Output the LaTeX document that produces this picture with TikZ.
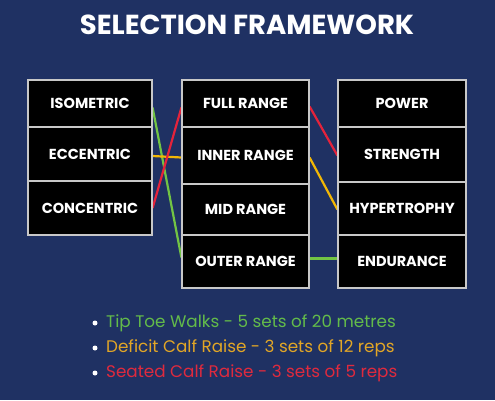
\documentclass[tikz,border=0pt]{standalone}
\usepackage{fontspec}
\setmainfont{Poppins}
\usepackage{tikz}
\pgfdeclarelayer{bglayer}
\pgfdeclarelayer{edgelayer}
\pgfdeclarelayer{nodelayer}
\pgfsetlayers{bglayer,edgelayer,nodelayer,main}
\definecolor{navy}{HTML}{1F3163}
\definecolor{boxline}{HTML}{C8C8C8}
\definecolor{lgreen}{HTML}{72C444}
\definecolor{lyellow}{HTML}{F2B705}
\definecolor{lred}{HTML}{E5233B}
\definecolor{tgreen}{HTML}{63BB4A}
\definecolor{tyellow}{HTML}{E2A626}
\definecolor{tred}{HTML}{DF2A3E}
\tikzstyle{none}=[inner sep=0pt]
\tikzstyle{heading}=[inner sep=0pt,text=white,font=\bfseries\fontsize{27.5}{30}\selectfont]
\tikzstyle{box}=[rectangle,fill=black,draw=boxline,line width=1.2pt,inner sep=0pt,text=white,font=\bfseries\fontsize{14.5}{17}\selectfont]
\tikzstyle{leftbox}=[style=box,minimum width=124pt]
\tikzstyle{midbox}=[style=box,minimum width=127pt]
\tikzstyle{rightbox}=[style=box,minimum width=128pt]
\tikzstyle{dot}=[circle,fill=white,inner sep=0pt,minimum size=5pt]
\tikzstyle{item}=[inner sep=0pt,anchor=west,font=\fontsize{16.8}{19}\selectfont]
\tikzstyle{link}=[-,line width=2.2pt]

\begin{document}
\begin{tikzpicture}[x=1pt,y=-1pt]
	\begin{pgfonlayer}{bglayer}
		\fill [navy] (0, 0) rectangle (495, 400);
	\end{pgfonlayer}
	\useasboundingbox (0, 0) rectangle (495, 400);
	\begin{pgfonlayer}{nodelayer}
		\node [style=heading] (title) at (247, 25) {SELECTION FRAMEWORK};
		% contraction types
		\node [style=leftbox, minimum height=47pt] (iso) at (90, 103.5) {ISOMETRIC};
		\node [style=leftbox, minimum height=54pt] (ecc) at (90, 154) {ECCENTRIC};
		\node [style=leftbox, minimum height=54pt] (con) at (90, 208) {CONCENTRIC};
		% ranges
		\node [style=midbox, minimum height=47pt] (full) at (245.5, 103.5) {FULL RANGE};
		\node [style=midbox, minimum height=57pt] (inner) at (245.5, 155.5) {INNER RANGE};
		\node [style=midbox, minimum height=51pt] (mid) at (245.5, 209.5) {MID RANGE};
		\node [style=midbox, minimum height=53pt] (outer) at (245.5, 261.5) {OUTER RANGE};
		% qualities
		\node [style=rightbox, minimum height=47pt] (power) at (402, 103.5) {POWER};
		\node [style=rightbox, minimum height=55pt] (strength) at (402, 154.5) {STRENGTH};
		\node [style=rightbox, minimum height=53pt] (hyper) at (402, 208.5) {HYPERTROPHY};
		\node [style=rightbox, minimum height=53pt] (endur) at (402, 261.5) {ENDURANCE};
		% exercises
		\node [style=dot] (b1) at (95, 323) {};
		\node [style=dot] (b2) at (95, 348) {};
		\node [style=dot] (b3) at (95, 373) {};
		\node [style=item, text=tgreen] (ex1) at (106, 323) {Tip Toe Walks - 5 sets of 20 metres};
		\node [style=item, text=tyellow] (ex2) at (106, 348) {Deficit Calf Raise - 3 sets of 12 reps};
		\node [style=item, text=tred] (ex3) at (106, 373) {Seated Calf Raise - 3 sets of 5 reps};
	\end{pgfonlayer}
	\begin{pgfonlayer}{edgelayer}
		\draw [style=link, draw=lgreen] ([yshift=-4pt]iso.east) to ([yshift=4pt]outer.west);
		\draw [style=link, draw=lyellow] ([yshift=-2pt]ecc.east) to ([yshift=-2pt]inner.west);
		\draw [style=link, draw=lred] (con.east) to ([yshift=-4pt]full.west);
		\draw [style=link, draw=lred] ([yshift=-3pt]full.east) to ([yshift=-1pt]strength.west);
		\draw [style=link, draw=lyellow] ([yshift=-2pt]inner.east) to ([yshift=-1pt]hyper.west);
		\draw [style=link, draw=lgreen] ([yshift=3pt]outer.east) to ([yshift=3pt]endur.west);
	\end{pgfonlayer}
\end{tikzpicture}
\end{document}
